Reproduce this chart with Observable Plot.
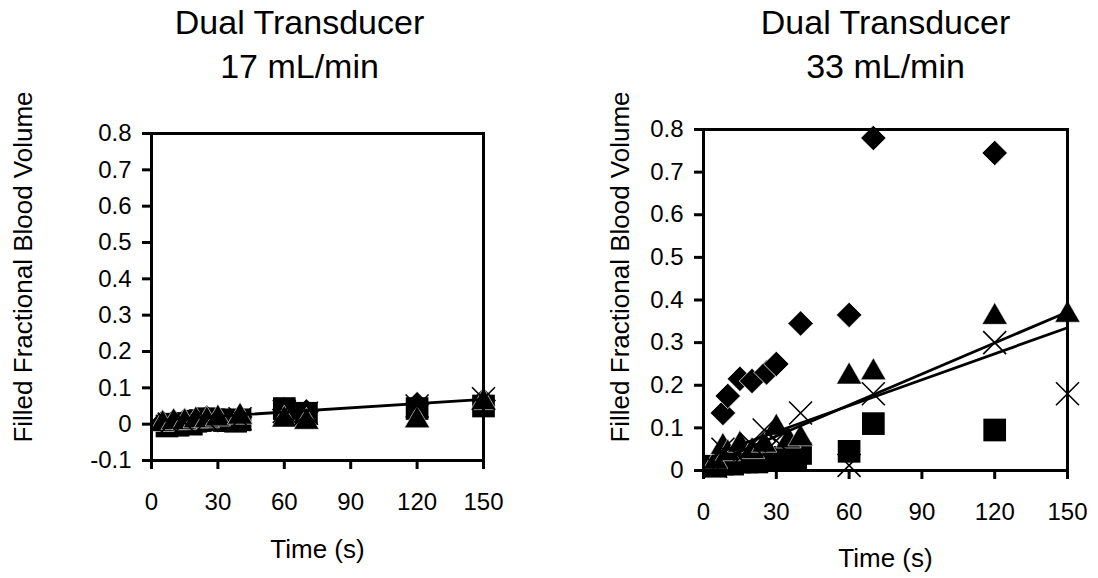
<!DOCTYPE html>
<html><head><meta charset="utf-8">
<script src="https://cdn.jsdelivr.net/npm/d3@7"></script>
<script src="https://cdn.jsdelivr.net/npm/@observablehq/plot@0.6"></script>
<style>
body{margin:0;background:#fff}
#wrap{position:relative;width:1098px;height:578px;background:#fff}
#wrap svg{position:absolute;top:0}
</style>
</head><body><div id="wrap"></div>
<script>
// ---- shared ticks / labels ----
const xTicks = [0, 30, 60, 90, 120, 150];
const yTicksLeft = [-0.1, 0, 0.1, 0.2, 0.3, 0.4, 0.5, 0.6, 0.7, 0.8];
const yTicksRight = [0, 0.1, 0.2, 0.3, 0.4, 0.5, 0.6, 0.7, 0.8];
const titleLeft = "Dual Transducer\n17 mL/min";
const titleRight = "Dual Transducer\n33 mL/min";
const xLabel = "Time (s)";
const yLabel = "Filled Fractional Blood Volume";

// ---- left panel: 17 mL/min ----
const leftSquareT = [7, 10, 12, 15, 18, 20, 22, 25, 28, 30, 33, 35, 38, 40, 60, 70, 120, 150];
const leftSquareV = [-0.005, 0.0, -0.003, 0.002, 0.0, 0.008, 0.01, 0.015, 0.012, 0.012, 0.01, 0.01, 0.008, 0.012, 0.043, 0.03, 0.043, 0.05];
const leftTriangleT = [5, 10, 15, 20, 25, 30, 40, 60, 70, 120, 150];
const leftTriangleV = [0.0, 0.005, 0.005, 0.01, 0.01, 0.015, 0.02, 0.012, 0.006, 0.01, 0.06];
const leftDiamondT = [5, 10, 15, 20, 25, 30, 40, 60, 70, 120, 150];
const leftDiamondV = [0.005, 0.008, 0.01, 0.012, 0.018, 0.015, 0.02, 0.04, 0.035, 0.055, 0.065];
const leftTimesT = [8, 15, 25, 40, 60, 70, 120, 150];
const leftTimesV = [0.0, 0.005, 0.01, 0.015, 0.035, 0.03, 0.05, 0.07];
const leftFitT = [5, 150];
const leftFitV = [0.012, 0.068];

// ---- right panel: 33 mL/min ----
const rightDiamondT = [8, 10, 15, 20, 26, 30, 40, 60, 70, 120];
const rightDiamondV = [0.135, 0.175, 0.215, 0.21, 0.23, 0.25, 0.345, 0.365, 0.78, 0.745];
const rightTriangleT = [5, 8, 10, 15, 20, 25, 30, 35, 40, 60, 70, 120, 150];
const rightTriangleV = [0.02, 0.055, 0.04, 0.06, 0.045, 0.06, 0.10, 0.07, 0.075, 0.22, 0.23, 0.36, 0.365];
const rightSquareT = [5, 8, 10, 12, 15, 18, 20, 22, 25, 28, 30, 33, 35, 38, 40, 60, 70, 120];
const rightSquareV = [0.01, 0.015, 0.02, 0.015, 0.02, 0.02, 0.025, 0.02, 0.03, 0.025, 0.03, 0.03, 0.035, 0.03, 0.04, 0.045, 0.11, 0.095];
const rightTimesT = [5, 8, 15, 20, 25, 30, 40, 60, 70, 120, 150];
const rightTimesV = [0.01, 0.05, 0.03, 0.06, 0.095, 0.07, 0.135, 0.012, 0.18, 0.30, 0.18];
const rightFitT = [5, 150];
const rightFitAV = [0.02, 0.372];
const rightFitBV = [0.04, 0.335];

const zip = (T, V) => T.map((t, i) => ({t, v: V[i]}));
const FONT = "'Liberation Sans', Arial, Helvetica, sans-serif";

function panel(cfg) {
  const {left, width, mL, mR, mT, mB, yDomain, yTicks, series, fits, title, titleDx, titleDy, yLabDx, yLabDy, xLabDy} = cfg;
  const dotMarks = [
    Plot.dot(series.diamond, {x: "t", y: "v", symbol: "diamond2", r: 11.5, fill: "black", stroke: "white", strokeWidth: 0.8}),
    Plot.dot(series.square, {x: "t", y: "v", symbol: "square", r: 12.8, fill: "black"}),
    Plot.dot(series.triangle, {x: "t", y: "v", symbol: "triangle", r: 9.4, fill: "black", stroke: "white", strokeWidth: 0.6}),
    Plot.dot(series.times, {x: "t", y: "v", symbol: "times", r: 10.5, stroke: "black", strokeWidth: 1.6, fill: "none"})
  ];
  const lineMarks = fits.map(f => Plot.line(f, {x: "t", y: "v", stroke: "black", strokeWidth: 2.8}));
  const svg = Plot.plot({
    width, height: 578,
    marginLeft: mL, marginRight: mR, marginTop: mT, marginBottom: mB,
    style: {fontFamily: FONT, fontSize: "24px", color: "black", background: "transparent", overflow: "visible"},
    x: {domain: [0, 150], label: null},
    y: {domain: yDomain, label: null},
    marks: [
      ...dotMarks,
      ...lineMarks,
      Plot.frame({stroke: "black", strokeWidth: 3}),
      Plot.axisX({ticks: xTicks, tickSize: 9, tickPadding: 23, strokeWidth: 3, label: null, fontSize: 24, tickFormat: d => String(d)}),
      Plot.axisY({ticks: yTicks, tickSize: 9, tickPadding: 11, strokeWidth: 3, label: null, fontSize: 24, tickFormat: d => String(d)}),
      Plot.text([title], {frameAnchor: "top", dx: titleDx, dy: titleDy, fontSize: 34, lineHeight: 1.27, lineAnchor: "bottom"}),
      Plot.text([yLabel], {frameAnchor: "left", dx: yLabDx, dy: yLabDy, rotate: -90, textAnchor: "middle", fontSize: 26}),
      Plot.text([xLabel], {frameAnchor: "bottom", dy: xLabDy, textAnchor: "middle", fontSize: 26})
    ]
  });
  svg.style.left = left + "px";
  document.getElementById("wrap").appendChild(svg);
}

panel({
  left: 0, width: 549, mL: 151, mR: 66, mT: 133, mB: 118,
  yDomain: [-0.1, 0.8], yTicks: yTicksLeft,
  series: {square: zip(leftSquareT, leftSquareV), triangle: zip(leftTriangleT, leftTriangleV),
           diamond: zip(leftDiamondT, leftDiamondV), times: zip(leftTimesT, leftTimesV)},
  fits: [zip(leftFitT, leftFitV)],
  title: titleLeft, titleDx: -18, titleDy: -56,
  yLabDx: -128, yLabDy: -30, xLabDy: 97
});

panel({
  left: 549, width: 549, mL: 154, mR: 31, mT: 129, mB: 108,
  yDomain: [0, 0.8], yTicks: yTicksRight,
  series: {square: zip(rightSquareT, rightSquareV), triangle: zip(rightTriangleT, rightTriangleV),
           diamond: zip(rightDiamondT, rightDiamondV), times: zip(rightTimesT, rightTimesV)},
  fits: [zip(rightFitT, rightFitAV), zip(rightFitT, rightFitBV)],
  title: titleRight, titleDx: 0, titleDy: -52,
  yLabDx: -83, yLabDy: -33, xLabDy: 96
});
</script>
</body></html>
